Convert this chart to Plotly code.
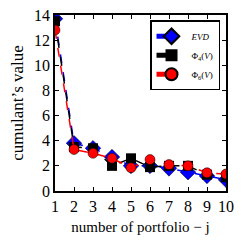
import plotly.graph_objects as go

portfolio = [1, 2, 3, 4, 5, 6, 7, 8, 9, 10]
evd = [13.7, 3.8, 3.4, 2.7, 2.0, 2.0, 1.8, 1.5, 1.2, 0.9]
phi4 = [13.5, 3.5, 3.4, 2.0, 2.6, 1.9, 2.0, 2.0, 1.3, 1.1]
phi6 = [12.8, 3.3, 3.0, 2.6, 1.85, 2.5, 2.1, 2.0, 1.45, 1.35]

font = "Liberation Serif, DejaVu Serif, serif"
fig = go.Figure()
fig.add_trace(go.Scatter(x=portfolio, y=evd, mode="lines+markers", name="<i>EVD</i>",
                         line=dict(color="blue", width=1.5, dash="dash"),
                         marker=dict(symbol="diamond", size=12, color="blue", line=dict(color="black", width=0.5))))
fig.add_trace(go.Scatter(x=portfolio, y=phi4, mode="lines+markers", name="Φ<sub>4</sub>(<i>V</i>)",
                         line=dict(color="black", width=1.5, dash="dash"),
                         marker=dict(symbol="square", size=10, color="black")))
fig.add_trace(go.Scatter(x=portfolio, y=phi6, mode="lines+markers", name="Φ<sub>6</sub>(<i>V</i>)",
                         line=dict(color="red", width=1.5, dash="dash"),
                         marker=dict(symbol="circle", size=10, color="red", line=dict(color="black", width=0.5))))

axis_common = dict(showgrid=False, zeroline=False, showline=True, linecolor="black", linewidth=1.5,
                   mirror="ticks", ticks="inside", ticklen=4, tickcolor="black", automargin=False,
                   ticklabeloverflow="allow",
                   tickfont=dict(family=font, size=16, color="black"))
fig.update_xaxes(range=[1, 10], tickvals=portfolio, title=dict(text="number of portfolio − j",
                 font=dict(family=font, size=15, color="black"), standoff=8), **axis_common)
fig.update_yaxes(range=[0, 14], tickvals=[0, 2, 4, 6, 8, 10, 12, 14], title=dict(text="cumulant’s value",
                 font=dict(family=font, size=17, color="black"), standoff=6), **axis_common)
fig.update_layout(width=235, height=239, margin=dict(l=47, r=17, t=7, b=56, autoexpand=False),
                  plot_bgcolor="white", paper_bgcolor="white",
                  legend=dict(x=0.965, y=0.97, xanchor="right", yanchor="top", bordercolor="black", borderwidth=1.5,
                              bgcolor="white", font=dict(family=font, size=9, color="black"),
                              itemwidth=30, tracegroupgap=0, itemsizing="constant"),
                  showlegend=True)
fig.write_html("out.html")
